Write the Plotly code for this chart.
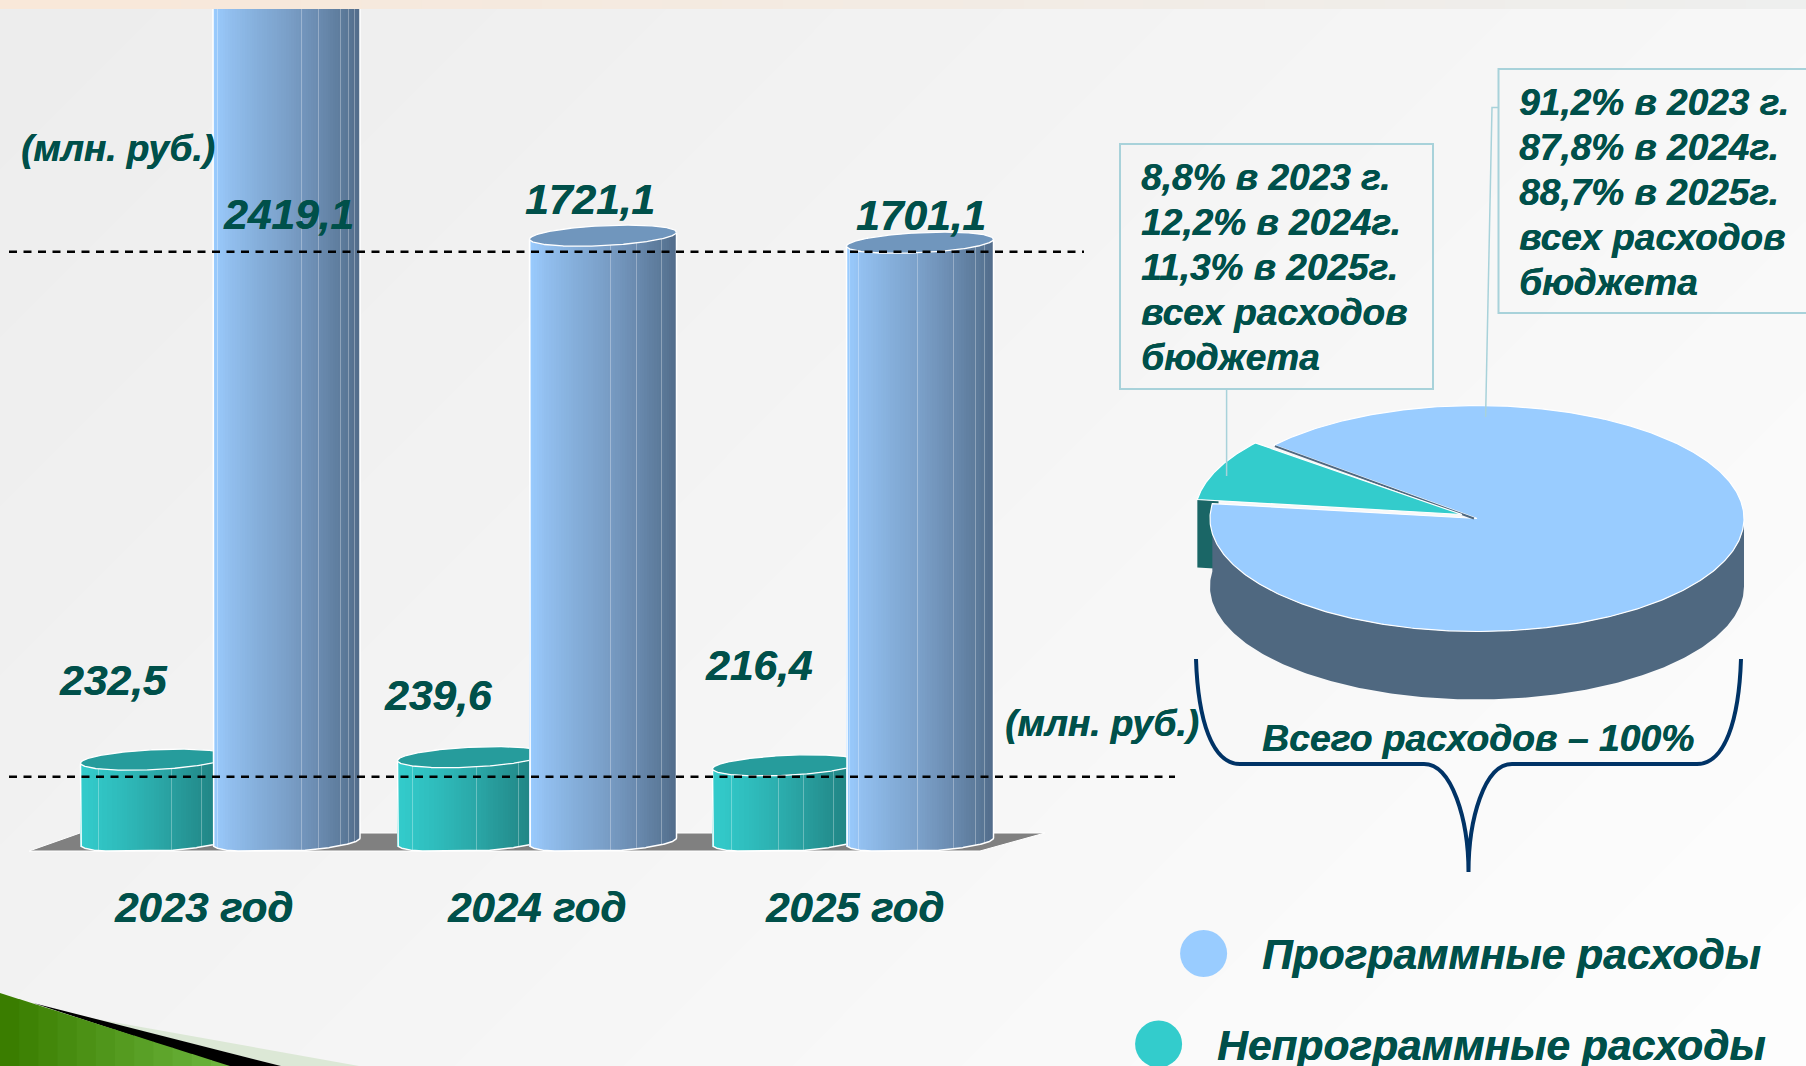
import numpy as np
import plotly.graph_objects as go

# ---------- data ----------
years = ["2023 год", "2024 год", "2025 год"]
program = [2419.1, 1721.1, 1701.1]
nonprogram = [232.5, 239.6, 216.4]
pie_shares = {"Программные расходы": 91.2, "Непрограммные расходы": 8.8}
box_left = ["8,8% в 2023 г.", "12,2% в 2024г.", "11,3% в 2025г.", "всех расходов", "бюджета"]
box_right = ["91,2% в 2023 г.", "87,8% в 2024г.", "88,7% в 2025г.", "всех расходов", "бюджета"]
unit_label = "(млн. руб.)"
total_label = "Всего расходов – 100%"

# ---------- geometry / style ----------
W, H = 1806, 1066
BASE_PX, PX_PER_UNIT = 841.5, 0.352
CYL_W = 147
A, B, K = CYL_W / 2, 10.0, -0.048
TEAL_LEFT = [80.5, 397.5, 712.5]
BLUE_LEFT = [213, 529.5, 846.5]
BLUE_LINES = [[0.03, 0.60, 0.72, 0.87, 0.92, 0.96], [0.01, 0.55, 0.73, 0.90], [0.02, 0.08, 0.48, 0.73, 0.88, 0.94]]
TEAL_LINES = [[0.12, 0.62, 0.82], [0.10, 0.54, 0.82], [0.13, 0.45, 0.62, 0.82]]
TXT = "#00504A"
FONT = "Liberation Sans"
BLUE_STOPS = [(0, "#9ACCFF"), (.1, "#93C0F0"), (.3, "#85AFDB"), (.5, "#7BA0C9"), (.7, "#6C8DB2"), (.9, "#5B7999"), (1, "#526C8A")]
TEAL_STOPS = [(0, "#33CCCC"), (.25, "#2FBDBD"), (.5, "#2BAAAA"), (.75, "#259393"), (1, "#1F7E7E")]


def hex2rgb(c):
    return np.array([int(c[i:i + 2], 16) for i in (1, 3, 5)], float)


def grad(stops, f):
    xs = [s[0] for s in stops]
    cols = np.array([hex2rgb(s[1]) for s in stops])
    r = [np.interp(f, xs, cols[:, i]) for i in range(3)]
    return "rgb(%d,%d,%d)" % tuple(int(round(v)) for v in r)


def val_y(px):
    return (BASE_PX - np.asarray(px, float)) / PX_PER_UNIT


def cylinder_bars(lefts, values, stops, line_fracs, name):
    xs, ys, bases, widths, colors = [], [], [], [], []
    N = 60
    for left, v, lines in zip(lefts, values, line_fracs):
        cx = left + A
        for i in range(N):
            f = (i + .5) / N
            x = left + CYL_W * f
            u = (x - cx) / A
            off = min(B * np.sqrt(1 - u * u) + K * (x - cx), 9.5)
            xs.append(x); ys.append(v); bases.append(-off / PX_PER_UNIT)
            widths.append(CYL_W / N + .4); colors.append(grad(stops, f))
        for f in lines:
            x = left + CYL_W * f
            u = (x - cx) / A
            off = min(B * np.sqrt(1 - u * u) + K * (x - cx), 9.5)
            xs.append(x); ys.append(v); bases.append(-off / PX_PER_UNIT)
            widths.append(1.0); colors.append("rgba(255,255,255,0.3)")
    return go.Bar(x=xs, y=ys, base=bases, width=widths, marker=dict(color=colors, line=dict(width=0)),
                  name=name, showlegend=False, hoverinfo="skip", xaxis="x2", yaxis="y2")


fig = go.Figure()
shapes, anns = [], []

# background bands (one grey level each)
for i in range(1, 17):
    T = i * 2872 / 17
    g = 0xED + i
    shapes.append(dict(type="path", layer="below", xref="x", yref="y", line=dict(width=0),
                       fillcolor=f"rgb({g},{g},{g})",
                       path=f"M {T} 0 L 3000 0 L 3000 3000 L 0 3000 L 0 {T} Z"))

# green corner
shapes.append(dict(type="path", layer="below", xref="x", yref="y", line=dict(width=0), fillcolor="#DCE8D6",
                   path="M 85 1017 L 359 1066 L 281 1066 Z"))
shapes.append(dict(type="path", layer="below", xref="x", yref="y", line=dict(width=0), fillcolor="#000000",
                   path="M 33 1003 L 281 1066 L 225 1066 Z"))
for i in range(12):
    x0, x1 = i * 230 / 12, (i + 1.05) * 230 / 12
    y0, y1 = 993 + 73 * x0 / 230, 993 + 73 * x1 / 230
    f = i / 11
    col = "rgb(%d,%d,%d)" % (58 + 50 * f, 125 + 55 * f, 0 + 60 * f)
    shapes.append(dict(type="path", layer="below", xref="x", yref="y", line=dict(width=0), fillcolor=col,
                       path=f"M {x0} {y0} L {x1} {y1} L {x1} 1066 L {x0} 1066 Z"))

# floor
shapes.append(dict(type="path", layer="below", xref="x", yref="y", fillcolor="#808080",
                   line=dict(color="#FFFFFF", width=1),
                   path="M 29 851 L 80 833 L 1045 833 L 980 851 Z"))

# top band (peach at the left fading to grey) and dashed reference lines
for i in range(30):
    f = i / 29
    r, g, b = 0xF9 + (0xEE - 0xF9) * f, 0xE8 + (0xEF - 0xE8) * f, 0xD9 + (0xEE - 0xD9) * f
    shapes.append(dict(type="rect", layer="above", xref="x", yref="y", x0=i * W / 30, x1=(i + 1.05) * W / 30,
                       y0=0, y1=9, fillcolor="rgb(%d,%d,%d)" % (r, g, b), line=dict(width=0)))
for y, x1 in [(251.7, 1084), (776.7, 1175)]:
    shapes.append(dict(type="line", layer="above", xref="x", yref="y", x0=9, x1=x1, y0=y, y1=y,
                       line=dict(color="#000000", width=2.5, dash="8px,6.5px")))

# callout boxes and leaders
BOXC = "#A8D2DA"
shapes.append(dict(type="rect", xref="x", yref="y", x0=1120, x1=1433, y0=144, y1=389,
                   line=dict(color=BOXC, width=2), layer="above"))
shapes.append(dict(type="rect", xref="x", yref="y", x0=1498.5, x1=W + 20, y0=69, y1=313,
                   line=dict(color=BOXC, width=2), layer="above"))
shapes.append(dict(type="path", xref="x", yref="y", layer="above", line=dict(color=BOXC, width=1.5),
                   path="M 1226.6 389 L 1226.6 476"))
shapes.append(dict(type="path", xref="x", yref="y", layer="above", line=dict(color=BOXC, width=1.5),
                   path="M 1498.5 107.5 L 1492 107.5 L 1485.6 417"))

# brace
shapes.append(dict(type="path", xref="x", yref="y", layer="above", line=dict(color="#003366", width=4),
                   path="M 1196 659 C 1198 720 1212 764 1240 764 L 1424 764 "
                        "C 1452 764 1468.5 820 1468.5 872 "
                        "C 1468.5 820 1484 764 1512 764 L 1697 764 "
                        "C 1725 764 1739 720 1741 659"))

# ---------- pie (drawn from the shares) ----------
PCX, PCY, PA, PB, DEPTH = 1477, 518.5, 267, 113, 68
EXPL = (-15, -4)
START = 172.4
CUT_GAP = 1.2
blue_sweep = list(pie_shares.values())[0] * 3.6 - CUT_GAP
teal_sweep = list(pie_shares.values())[1] * 3.6


def arc(t0, t1, n=240, dx=0, dy=0):
    t = np.radians(np.linspace(t0, t1, n))
    return PCX + dx + PA * np.cos(t), PCY + dy - PB * np.sin(t)


def poly(x, y, fill, line=None, lw=0):
    fig.add_trace(go.Scatter(x=list(x), y=list(y), mode="lines", fill="toself", fillcolor=fill,
                             line=dict(color=line or fill, width=lw), showlegend=False, hoverinfo="skip"))


# teal slice: only the short outer part of its wall shows
tx, ty = arc(START, START - teal_sweep, dx=EXPL[0], dy=EXPL[1])
ax, ay = PCX + EXPL[0], PCY + EXPL[1]
wx, wy = tx[0] + .08 * (ax - tx[0]), ty[0] + .08 * (ay - ty[0])
poly([tx[0], wx, wx, tx[0]], [ty[0], wy, wy + DEPTH, ty[0] + DEPTH], "#1A6666")
# blue wall
bwx, bwy = arc(START, 360)
poly(np.r_[bwx, bwx[::-1]], np.r_[bwy, bwy[::-1] + DEPTH], "#4F6880")
# blue top
bx, by = arc(START, START + blue_sweep, n=480)
poly(np.r_[PCX, bx, PCX], np.r_[PCY, by, PCY], "#99CCFF", "#FFFFFF", 1.2)
# dark cut edge on the blue slice
fig.add_trace(go.Scatter(x=[PCX - 3, bx[-1] + 1], y=[PCY, by[-1] + 1], mode="lines",
                         line=dict(color="#4F6880", width=2), showlegend=False, hoverinfo="skip"))
# teal top
poly(np.r_[ax, tx, ax], np.r_[ay, ty, ay], "#33CCCC", "#FFFFFF", 1.2)

# legend circles
fig.add_trace(go.Scatter(x=[1203.6], y=[953.5], mode="markers", marker=dict(size=47, color="#99CCFF"),
                         name=list(pie_shares)[0], showlegend=False, hoverinfo="skip"))
fig.add_trace(go.Scatter(x=[1158.6], y=[1044], mode="markers", marker=dict(size=47, color="#33CCCC"),
                         name=list(pie_shares)[1], showlegend=False, hoverinfo="skip"))

# ---------- cylinders ----------
fig.add_trace(cylinder_bars(TEAL_LEFT, nonprogram, TEAL_STOPS, TEAL_LINES, "Непрограммные расходы"))
fig.add_trace(cylinder_bars(BLUE_LEFT, program, BLUE_STOPS, BLUE_LINES, "Программные расходы"))


def ellipse(left, value):
    t = np.linspace(0, 2 * np.pi, 500)
    cx = left + A
    x = cx + A * np.cos(t)
    off = B * np.sin(t) + K * (x - cx)
    return x, value - off / PX_PER_UNIT


def outline(left, value):
    cx = left + A
    t = np.linspace(np.pi, 0, 300)
    x = cx + A * np.cos(t)
    off = np.minimum(B * np.sin(t) + K * (x - cx), 9.5)
    yb = -off / PX_PER_UNIT
    return np.r_[x[0], x, x[-1]], np.r_[value - K * (-A) / PX_PER_UNIT, yb, value - K * A / PX_PER_UNIT]


def line2(x, y, color, w):
    fig.add_trace(go.Scatter(x=list(x), y=list(y), mode="lines", line=dict(color=color, width=w),
                             xaxis="x2", yaxis="y2", showlegend=False, hoverinfo="skip"))


for left, v, bl in zip(TEAL_LEFT, nonprogram, BLUE_LEFT):
    x, y = outline(left, v)
    m = x <= bl
    line2(x[m], y[m], "#FFFFFF", 1.5)
    x, y = ellipse(left, v)
    m = x <= bl
    fig.add_trace(go.Scatter(x=list(x[m]), y=list(y[m]), mode="lines", fill="toself", fillcolor="#269C9C",
                             line=dict(color="#FFFFFF", width=1.3), xaxis="x2", yaxis="y2",
                             showlegend=False, hoverinfo="skip"))

for left, v in zip(BLUE_LEFT, program):
    x, y = outline(left, v)
    line2(x, y, "#FFFFFF", 1.5)
    x, y = ellipse(left, v)
    fig.add_trace(go.Scatter(x=list(x), y=list(y), mode="lines", fill="toself", fillcolor="#7096BD",
                             line=dict(color="#FFFFFF", width=1.3), xaxis="x2", yaxis="y2",
                             showlegend=False, hoverinfo="skip"))


# ---------- text ----------
def label(text, x, y, size, anchor="center"):
    anns.append(dict(text=f"<b><i>{text}</i></b>", x=x, y=y, xref="x", yref="y", xanchor=anchor, yanchor="middle",
                     showarrow=False,
                     font=dict(family=FONT, size=size, color=TXT, shadow="0.5px 0.3px 0 #00504A")))


def fmt(v):
    return f"{v:.1f}".replace(".", ",")


for v, (x, y) in zip(program, [(288, 214), (590, 199), (921, 215)]):
    label(fmt(v), x, y, 42.5)
for v, (x, y) in zip(nonprogram, [(113, 680), (438, 695), (758, 665)]):
    label(fmt(v), x, y, 42.5)
for t, x in zip(years, [203, 536, 854]):
    label(t, x, 907, 42)
label(unit_label, 19, 148, 37, "left")
label(unit_label, 1002.5, 723, 37, "left")
label(total_label, 1260, 738, 37.3, "left")
label(list(pie_shares)[0], 1260, 954, 42.5, "left")
label(list(pie_shares)[1], 1215, 1045, 42.5, "left")
for i, t in enumerate(box_left):
    label(t, 1139, 177.5 + 45 * i, 37, "left")
for i, t in enumerate(box_right):
    label(t, 1517, 102.5 + 45 * i, 37, "left")

hidden = dict(visible=False, showgrid=False, zeroline=False, fixedrange=True)
fig.update_layout(
    width=W, height=H, margin=dict(l=0, r=0, t=0, b=0, pad=0), autosize=False,
    paper_bgcolor="#EDEDED", plot_bgcolor="rgba(0,0,0,0)", barmode="overlay", bargap=0,
    showlegend=False, shapes=shapes, annotations=anns,
    xaxis=dict(range=[0, W], **hidden), yaxis=dict(range=[H, 0], **hidden),
    xaxis2=dict(range=[0, W], overlaying="x", **hidden),
    yaxis2=dict(range=[float(val_y(H)), float(val_y(0))], overlaying="y", **hidden),
)
fig.write_html("out.html", config=dict(displayModeBar=False),
               post_script="document.body.style.margin='0';document.documentElement.style.overflow='hidden';")
